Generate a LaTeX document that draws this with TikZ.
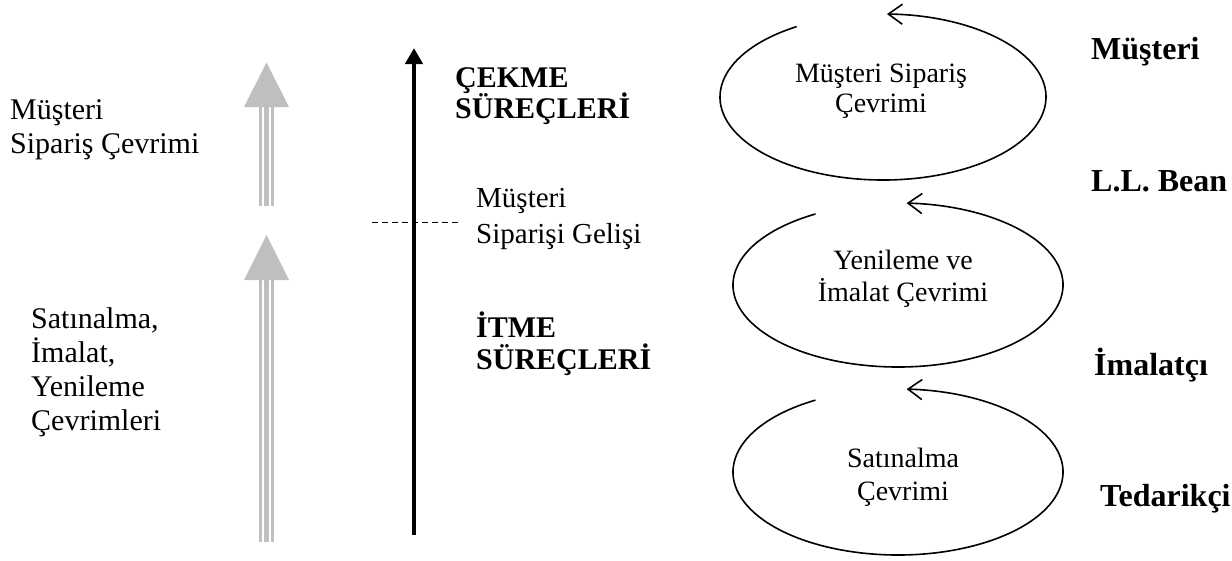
\documentclass[tikz,border=0pt]{standalone}
\usepackage{fontspec}
\setmainfont{Liberation Serif}
\usetikzlibrary{arrows.meta}
\begin{document}
\begin{tikzpicture}[x=1pt,y=-1pt,
  txt/.style={inner sep=0pt,anchor=base west,font=\fontsize{30}{34}\selectfont},
  mtxt/.style={inner sep=0pt,anchor=base west,font=\fontsize{29}{34}\selectfont},
  btxt/.style={inner sep=0pt,anchor=base west,font=\fontsize{30}{34}\selectfont\bfseries},
  rtxt/.style={inner sep=0pt,anchor=base west,font=\fontsize{32}{34}\selectfont\bfseries},
  etxt/.style={inner sep=0pt,anchor=base,font=\fontsize{28}{31}\selectfont},
  grayhead/.style={fill=gray!50!white,draw=none},
  grayline/.style={draw=gray!50!white},
  cycle/.style={line width=1.6pt,-{Straight Barb[length=14pt,width=20pt]}},
  blackarrow/.style={line width=4.5pt,-{Triangle[length=16pt,width=17pt]}},
  dashline/.style={line width=1.3pt,dash pattern=on 6pt off 4pt}]
\useasboundingbox (0,0) rectangle (1232,560);

% left texts
\node[txt] (l1a) at (10,119) {Müşteri};
\node[txt] (l1b) at (10,153) {Sipariş Çevrimi};
\node[txt] (l2a) at (31,328) {Satınalma,};
\node[txt] (l2b) at (31,362) {İmalat,};
\node[txt] (l2c) at (31,396) {Yenileme};
\node[txt] (l2d) at (31,430) {Çevrimleri};

% gray arrows
\fill[grayhead] (266.5,62.5) -- (289,107) -- (244,107) -- cycle;
\draw[grayline,line width=3pt] (260.5,107) -- (260.5,206);
\draw[grayline,line width=5pt] (266.5,107) -- (266.5,206);
\draw[grayline,line width=3pt] (272.5,107) -- (272.5,206);
\fill[grayhead] (266.5,235) -- (289,280) -- (244,280) -- cycle;
\draw[grayline,line width=3pt] (260.5,280) -- (260.5,542);
\draw[grayline,line width=5pt] (266.5,280) -- (266.5,542);
\draw[grayline,line width=3pt] (272.5,280) -- (272.5,542);

% black arrow
\coordinate (bb) at (414,535);
\coordinate (bt) at (414,48);
\draw[blackarrow] (bb) -- (bt);

% dashed line
\coordinate (d1) at (372,222.7);
\coordinate (d2) at (458,222.7);
\draw[dashline] (d1) -- (d2);

% middle texts
\node[btxt] (c1) at (455,87) {ÇEKME};
\node[btxt] (c2) at (455,118.5) {SÜREÇLERİ};
\node[mtxt] (m1) at (476,207) {Müşteri};
\node[mtxt] (m2) at (476,243) {Siparişi Gelişi};
\node[btxt] (i1) at (476,337) {İTME};
\node[btxt] (i2) at (476,369) {SÜREÇLERİ};

% cycles
\coordinate (e1) at (883,97);
\coordinate (e2) at (898,285);
\coordinate (e3) at (898,472);
\draw[cycle] (e1) ++(122:163pt and 83pt) arc[start angle=122,end angle=448.6,x radius=163pt,y radius=83pt];
\draw[cycle] (e2) ++(120:165pt and 82pt) arc[start angle=120,end angle=447,x radius=165pt,y radius=82pt];
\draw[cycle] (e3) ++(120:165pt and 83pt) arc[start angle=120,end angle=447,x radius=165pt,y radius=83pt];

\node[etxt] (t1a) at (881,82) {Müşteri Sipariş};
\node[etxt] (t1b) at (881,112.7) {Çevrimi};
\node[etxt] (t2a) at (903,269) {Yenileme ve};
\node[etxt] (t2b) at (903,301) {İmalat Çevrimi};
\node[etxt] (t3a) at (903,467) {Satınalma};
\node[etxt] (t3b) at (903,500) {Çevrimi};

% right labels
\node[rtxt] (r1) at (1091,59) {Müşteri};
\node[rtxt] (r2) at (1091,191) {L.L. Bean};
\node[rtxt] (r3) at (1094,375) {İmalatçı};
\node[rtxt] (r4) at (1100,506) {Tedarikçi};
\end{tikzpicture}
\end{document}
